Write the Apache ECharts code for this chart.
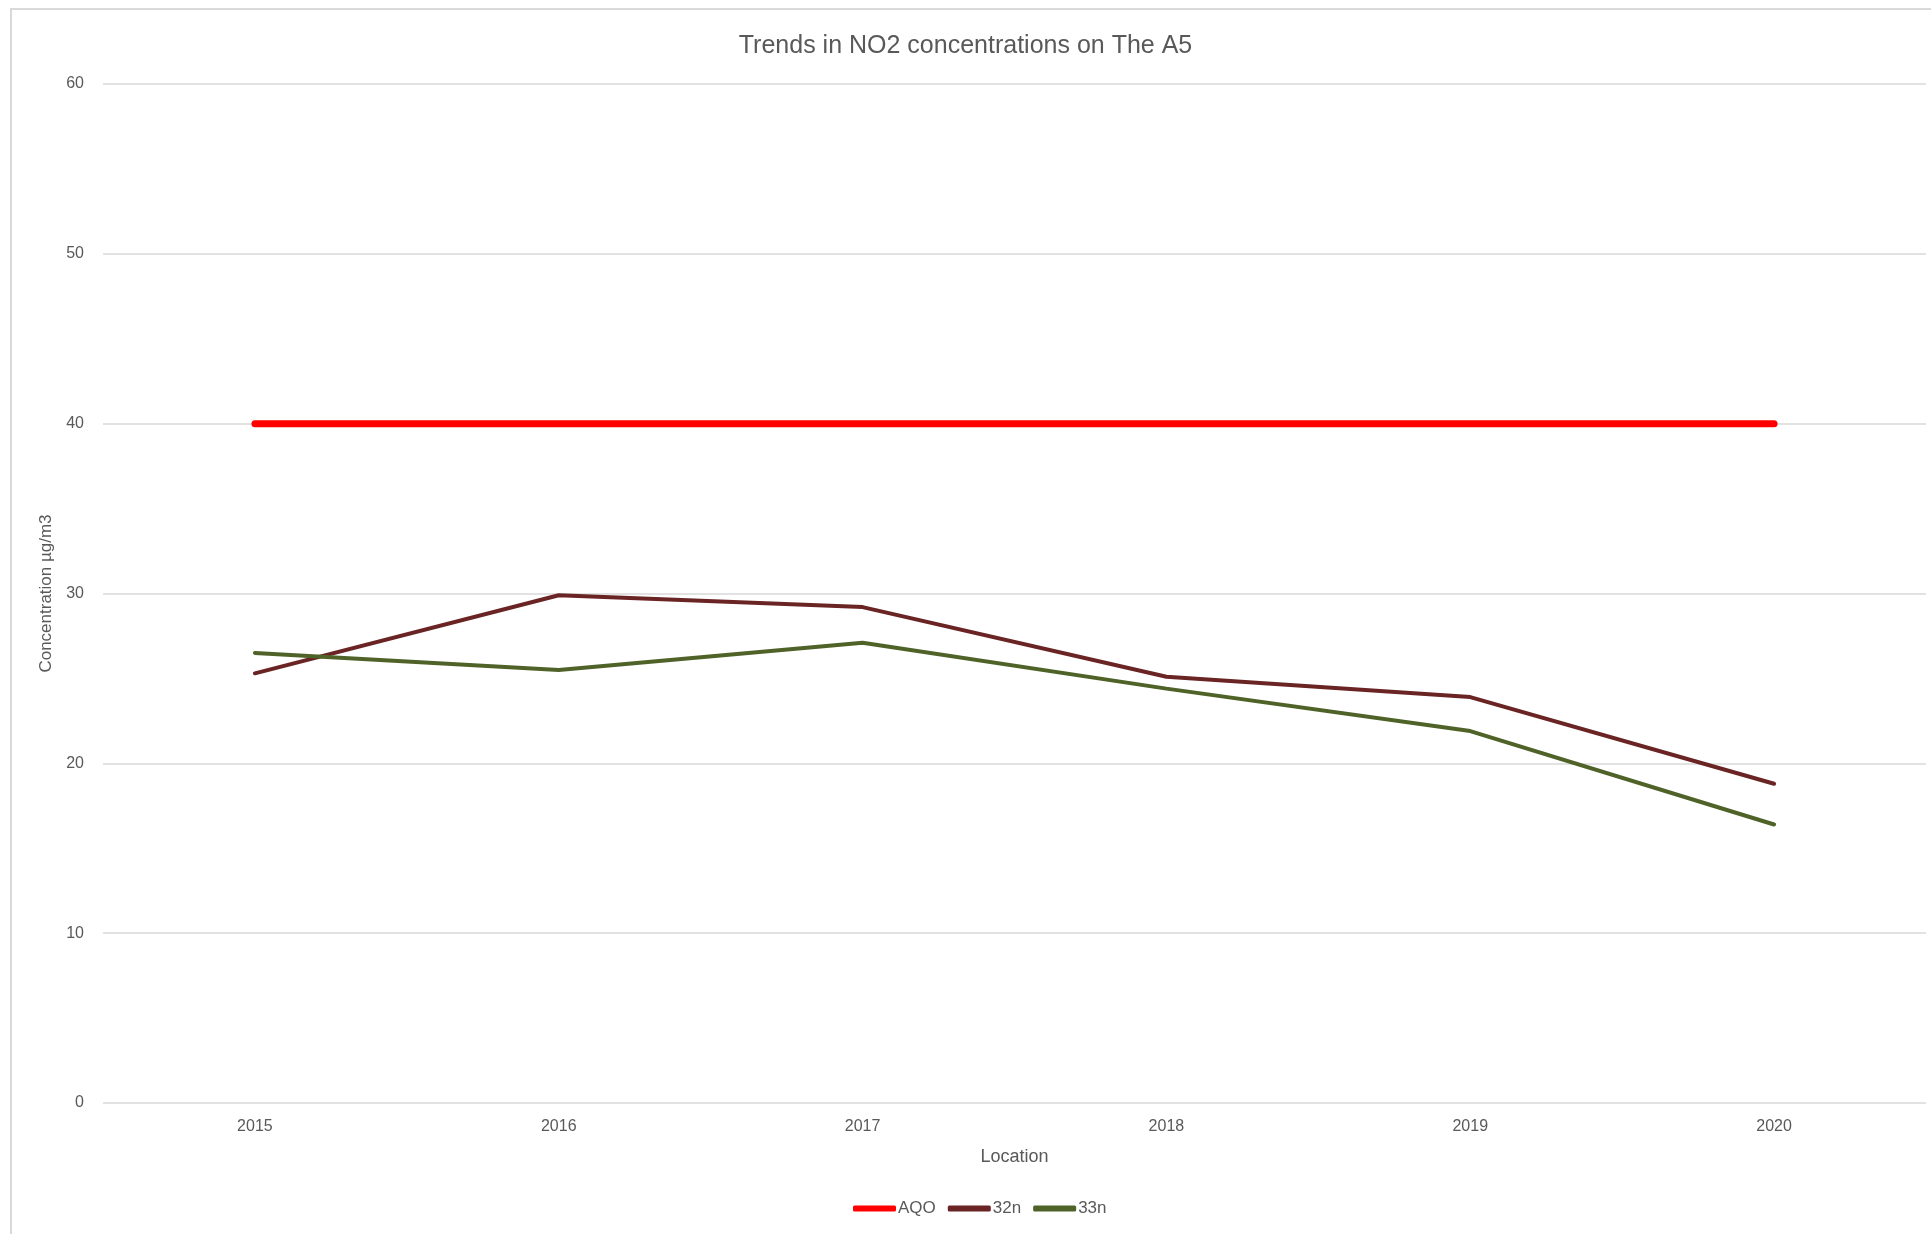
<!DOCTYPE html>
<html>
<head>
<meta charset="utf-8">
<script src="https://cdn.jsdelivr.net/npm/echarts@6/dist/echarts.min.js"></script>
<style>
html,body{margin:0;padding:0;background:#fff;}
#frame{position:absolute;left:10px;top:8px;width:1940px;height:1260px;border:2px solid #d9d9d9;box-sizing:border-box;}
#chart{position:absolute;left:0;top:0;width:1931px;height:1234px;}
</style>
</head>
<body>
<div id="frame"></div>
<div id="chart"></div>
<script>
const titleText = "Trends in NO2 concentrations on The A5";
const categories = ["2015", "2016", "2017", "2018", "2019", "2020"];
const aqo = [40, 40, 40, 40, 40, 40];
const s32n = [25.3, 29.9, 29.2, 25.1, 23.9, 18.8];
const s33n = [26.5, 25.5, 27.1, 24.4, 21.9, 16.4];
const yTicks = [0, 10, 20, 30, 40, 50, 60];

const FONT = '"Liberation Sans Narrow", "Liberation Sans", sans-serif';
const chart = echarts.init(document.getElementById('chart'), null, {renderer: 'canvas'});
chart.setOption({
  animation: false,
  backgroundColor: 'transparent',
  title: {
    text: titleText, left: 'center', top: 29,
    textStyle: {fontFamily: FONT, fontSize: 25, fontWeight: 'normal', color: '#595959'}
  },
  grid: {left: 103, right: 5, top: 84, bottom: 131, containLabel: false},
  legend: {
    bottom: 12, left: 848, itemGap: 12, itemWidth: 43, itemHeight: 6,
    icon: 'roundRect',
    textStyle: {fontFamily: FONT, fontSize: 17, color: '#595959', padding: [0, 0, 0, -3]},
    data: ['AQO', '32n', '33n']
  },
  xAxis: {
    type: 'category', data: categories, boundaryGap: true,
    name: 'Location', nameLocation: 'middle', nameGap: 45,
    nameTextStyle: {fontFamily: FONT, fontSize: 18, color: '#595959'},
    axisLine: {show: false}, axisTick: {show: false},
    axisLabel: {fontFamily: FONT, fontSize: 16, color: '#595959', margin: 16}
  },
  yAxis: {
    type: 'value', min: yTicks[0], max: yTicks[yTicks.length - 1], interval: 10,
    name: 'Concentration µg/m3', nameLocation: 'middle', nameGap: 39, nameRotate: 90,
    nameTextStyle: {fontFamily: FONT, fontSize: 17, color: '#595959'},
    axisLine: {show: false}, axisTick: {show: false},
    axisLabel: {fontFamily: FONT, fontSize: 16, color: '#595959', margin: 19},
    splitLine: {lineStyle: {color: '#d9d9d9', width: 1.5}}
  },
  series: [
    {name: 'AQO', type: 'line', data: aqo, symbol: 'none',
     lineStyle: {color: '#ff0000', width: 7, cap: 'round'}, itemStyle: {color: '#ff0000'}},
    {name: '32n', type: 'line', data: s32n, symbol: 'none',
     lineStyle: {color: '#6a2424', width: 4, cap: 'round'}, itemStyle: {color: '#6a2424'}},
    {name: '33n', type: 'line', data: s33n, symbol: 'none',
     lineStyle: {color: '#4f6228', width: 4, cap: 'round'}, itemStyle: {color: '#4f6228'}}
  ]
});
</script>
</body>
</html>
